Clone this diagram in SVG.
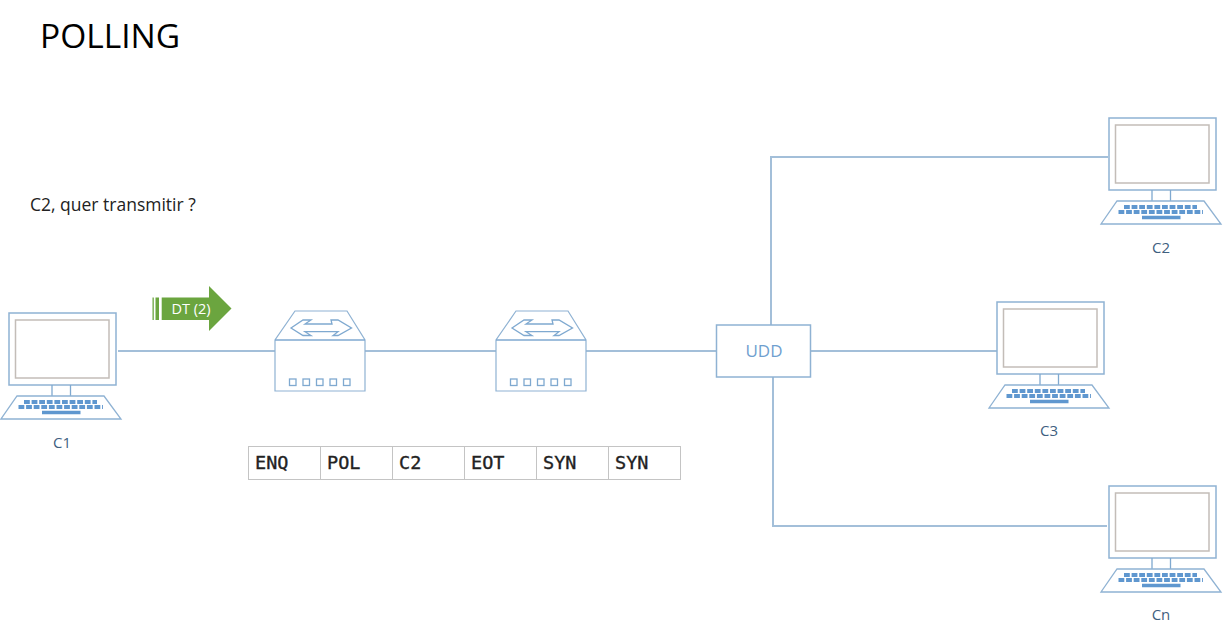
<svg xmlns="http://www.w3.org/2000/svg" xmlns:xlink="http://www.w3.org/1999/xlink" width="1223" height="633" viewBox="0 0 1223 633">
<style>
text{font-family:"Open Sans","Noto Sans","Liberation Sans",sans-serif}
.ln{fill:none;stroke:#a3bfd9;stroke-width:2}
.o{fill:#fff;stroke:#8fb2d3;stroke-width:1.5}
.t{fill:none;stroke:#7fa9d0;stroke-width:1.3}
.scr{fill:#fff;stroke:#c3bdb8;stroke-width:1.5}
.key{fill:none;stroke:#5f97cf;stroke-width:4;stroke-dasharray:5.8 1.8}
.lab{font-size:15px;fill:#3f5f7f;text-anchor:middle}
.cell{fill:#fff;stroke:#c4c4c4;stroke-width:1}
.mono{font-family:"DejaVu Sans Mono","Liberation Mono",monospace;font-size:18.500px;fill:#222;stroke:#222;stroke-width:.35}
</style>
<defs>
<g id="pc">
<rect class="o" x="9" y="313" width="107" height="72"/>
<rect class="scr" x="15.500" y="320" width="93.500" height="58"/>
<path class="t" d="M52 385V396M70.500 385V396"/>
<path class="o" style="stroke-width:1.300" d="M17 396H104L121 419H1Z"/>
<path class="key" d="M24 402H97M18.500 407H103"/>
<path d="M42 412.500H80.500" stroke="#5f97cf" stroke-width="3.600" fill="none"/>
</g>
<g id="router">
<path class="o" style="stroke-width:1.200" d="M295 311H347L365 340V391H275V340Z"/>
<path class="t" d="M275 340H365"/>
<path class="t" d="M291 328L303 320H311L305 324H332L331 320H338L351.500 328L338 335.500H333L338 331.700H305L311 335.500H303Z"/>
<g class="t">
<rect x="289.500" y="379" width="6.500" height="6.500"/>
<rect x="303" y="379" width="6.500" height="6.500"/>
<rect x="316.500" y="379" width="6.500" height="6.500"/>
<rect x="330" y="379" width="6.500" height="6.500"/>
<rect x="343.500" y="379" width="6.500" height="6.500"/>
</g>
</g>
</defs>
<rect width="1223" height="633" fill="#fff"/>
<text x="40" y="48" font-size="33.500" fill="#000">POLLING</text>
<text x="30" y="211" font-size="17.500" fill="#222">C2, quer transmitir ?</text>
<g id="connectors">
<path class="ln" d="M118 351H275M365 351H496M586 351H717M810 351H997M771 325V157H1108M773 377V526H1107"/>
</g>
<g id="signal">
<path fill="#6ba53f" d="M152.500 297.500h1.300v22.500h-1.300zM155.500 297.500h3.500v22.500h-3.500zM161.700 297.500H209V286L231.500 308.500L209 331V320H161.700Z"/>
<text x="191" y="314" font-size="14.500" fill="#fff" text-anchor="middle">DT (2)</text>
</g>
<g id="c1"><use href="#pc"/><text class="lab" x="62" y="448">C1</text></g>
<g id="router1"><use href="#router"/></g>
<g id="router2"><use href="#router" x="221"/></g>
<g id="udd"><rect class="o" x="716.500" y="325" width="94" height="52"/><text x="764" y="356.500" font-size="17" fill="#6f9fcf" text-anchor="middle">UDD</text></g>
<g id="c2"><use href="#pc" x="1100" y="-195"/><text class="lab" x="1161" y="253">C2</text></g>
<g id="c3"><use href="#pc" x="988" y="-11"/><text class="lab" x="1049" y="436">C3</text></g>
<g id="cn"><use href="#pc" x="1100" y="173"/><text class="lab" x="1161" y="620">Cn</text></g>
<g id="frame">
<rect class="cell" x="248.500" y="446.500" width="72" height="33"/>
<rect class="cell" x="320.500" y="446.500" width="72" height="33"/>
<rect class="cell" x="392.500" y="446.500" width="72" height="33"/>
<rect class="cell" x="464.500" y="446.500" width="72" height="33"/>
<rect class="cell" x="536.500" y="446.500" width="72" height="33"/>
<rect class="cell" x="608.500" y="446.500" width="72" height="33"/>
<text class="mono" x="255" y="469">ENQ</text>
<text class="mono" x="327" y="469">POL</text>
<text class="mono" x="399" y="469">C2</text>
<text class="mono" x="471" y="469">EOT</text>
<text class="mono" x="543" y="469">SYN</text>
<text class="mono" x="615" y="469">SYN</text>
</g>
</svg>
